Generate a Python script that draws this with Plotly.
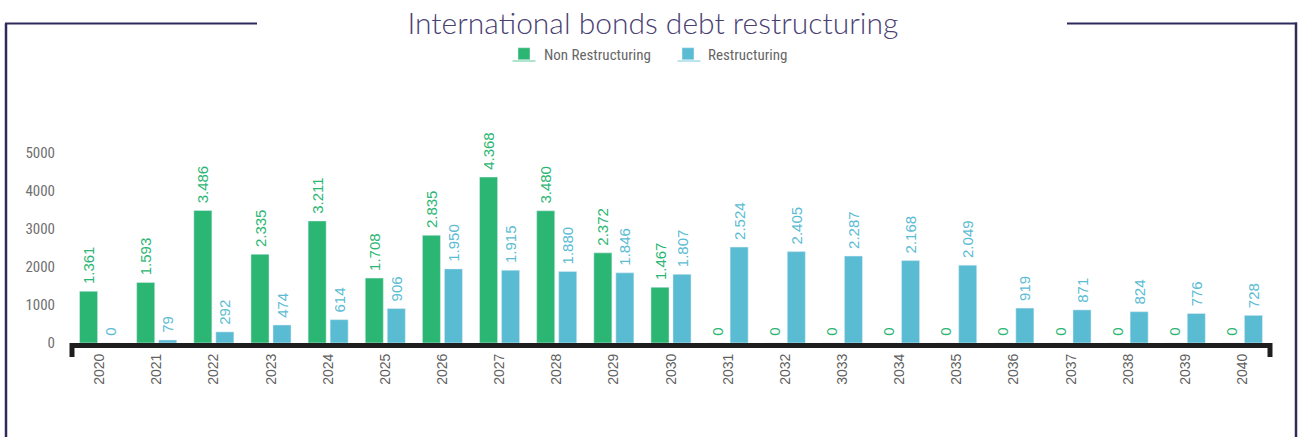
import plotly.graph_objects as go

categories = ["2020", "2021", "2022", "2023", "2024", "2025", "2026", "2027", "2028", "2029",
              "2030", "2031", "2032", "3033", "2034", "2035", "2036", "2037", "2038", "2039", "2040"]
non_restructuring = [1361, 1593, 3486, 2335, 3211, 1708, 2835, 4368, 3480, 2372,
                     1467, 0, 0, 0, 0, 0, 0, 0, 0, 0, 0]
restructuring = [0, 79, 292, 474, 614, 906, 1950, 1915, 1880, 1846,
                 1807, 2524, 2405, 2287, 2168, 2049, 919, 871, 824, 776, 728]
y_ticks = [0, 1000, 2000, 3000, 4000, 5000]

GREEN = "#2bb673"
BLUE = "#5abcd3"
FRAME = "#2e2a5c"
W, H = 1298, 437
ML, MR, MT, MB = 71, 27, 100, 94
PW = W - ML - MR
PH = H - MT - MB
PX_PER_UNIT = 38.0 / 1000.0


def fmt(v):
    return "\u00a0" + f"{v:,}".replace(",", ".")


def px(x):
    return (x - ML) / PW


def py(y):
    return (H - MB - y) / PH


label_font = "Liberation Sans Narrow, Arial Narrow, Roboto Condensed, Liberation Sans, sans-serif"
legend_font = dict(size=15, color="#666666", family=label_font)

fig = go.Figure()
fig.add_trace(go.Bar(
    name="Non Restructuring", x=categories, y=non_restructuring, legend="legend",
    marker_color=GREEN, text=[fmt(v) for v in non_restructuring],
    textposition="outside", textangle=-90, constraintext="none", cliponaxis=False,
    textfont=dict(color=GREEN, size=15, family="Liberation Sans, Arial, sans-serif"),
))
fig.add_trace(go.Bar(
    name="Restructuring", x=categories, y=restructuring, legend="legend2",
    marker_color=BLUE, text=[fmt(v) for v in restructuring],
    textposition="outside", textangle=-90, constraintext="none", cliponaxis=False,
    textfont=dict(color=BLUE, size=15, family="Liberation Sans, Arial, sans-serif"),
))

shapes = [
    # frame
    dict(type="line", xref="paper", yref="paper", x0=px(6), x1=px(6), y0=py(23.5), y1=py(440),
         line=dict(color=FRAME, width=2.5)),
    dict(type="line", xref="paper", yref="paper", x0=px(5), x1=px(257), y0=py(23.5), y1=py(23.5),
         line=dict(color=FRAME, width=2)),
    dict(type="line", xref="paper", yref="paper", x0=px(1067), x1=px(1297), y0=py(23.5), y1=py(23.5),
         line=dict(color=FRAME, width=2)),
    dict(type="line", xref="paper", yref="paper", x0=px(1296), x1=px(1296), y0=py(22.5), y1=py(440),
         line=dict(color=FRAME, width=2.5)),
    # axis bracket ends
    dict(type="line", xref="paper", yref="paper", x0=px(72), x1=px(72), y0=py(343), y1=py(357),
         line=dict(color="#1e1e1e", width=5)),
    dict(type="line", xref="paper", yref="paper", x0=px(1270), x1=px(1270), y0=py(343), y1=py(357),
         line=dict(color="#1e1e1e", width=5)),
    # legend icon underlines
    dict(type="line", xref="paper", yref="paper", x0=px(512.5), x1=px(535.5), y0=py(61), y1=py(61),
         line=dict(color="#93dcb8", width=1.5)),
    dict(type="line", xref="paper", yref="paper", x0=px(677.5), x1=px(700.5), y0=py(61), y1=py(61),
         line=dict(color="#a6dcea", width=1.5)),
]

fig.update_layout(
    width=W, height=H,
    margin=dict(l=ML, r=MR, t=MT, b=MB),
    paper_bgcolor="white", plot_bgcolor="white",
    barmode="group", bargap=0.23, bargroupgap=0.18,
    title=dict(text="International bonds debt restructuring", x=0.503, xanchor="center",
               y=1 - 23 / H, yanchor="middle",
               font=dict(size=30, color="#4a4173", family="Lato, Liberation Sans, sans-serif", weight=300)),
    legend=dict(orientation="h", x=px(504), xanchor="left", y=py(54), yanchor="middle",
                font=legend_font, bgcolor="rgba(0,0,0,0)"),
    legend2=dict(orientation="h", x=px(668), xanchor="left", y=py(54), yanchor="middle",
                 font=legend_font, bgcolor="rgba(0,0,0,0)"),
    xaxis=dict(type="category", showline=True, linecolor="#1e1e1e", linewidth=5,
               tickangle=-90, ticks="", showgrid=False,
               tickfont=dict(size=14, color="#5f5f5f", family="Liberation Sans, Arial, sans-serif")),
    yaxis=dict(range=[0, PH / PX_PER_UNIT], tickvals=y_ticks, ticktext=[str(t) for t in y_ticks],
               showgrid=False, zeroline=False, showline=False, ticks="",
               ticklabelstandoff=15,
               tickfont=dict(size=15, color="#707070", family=label_font)),
    shapes=shapes,
    showlegend=True,
)

fig.write_html("out.html", config={"displayModeBar": False},
               post_script="document.body.style.margin='0';document.body.style.overflow='hidden';")
